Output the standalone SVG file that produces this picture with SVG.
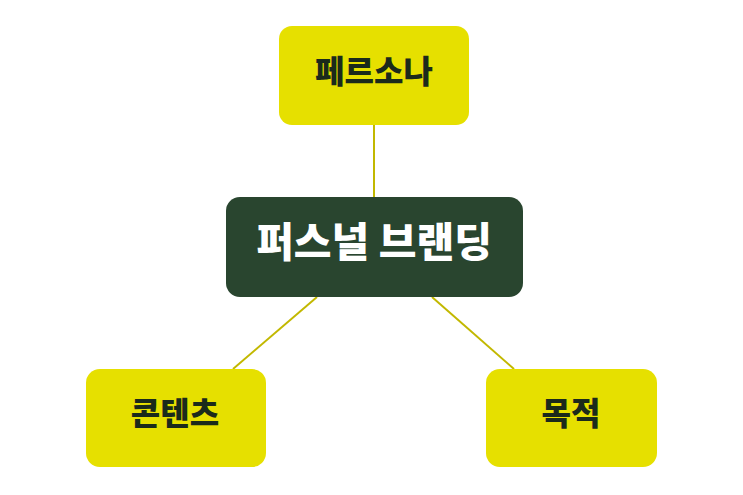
<svg xmlns="http://www.w3.org/2000/svg" width="743" height="495" viewBox="0 0 743 495">
<style>
.leaf{fill:#E6E000;}
.root{fill:#29452F;}
.lt{font-family:"Noto Sans CJK KR","Noto Sans",sans-serif;font-weight:900;font-size:32px;fill:#1B2A1B;text-anchor:middle;}
.rt{font-family:"Noto Sans CJK KR","Noto Sans",sans-serif;font-weight:900;font-size:41px;fill:#FFFFFF;text-anchor:middle;}
.conn{stroke:#C2B800;stroke-width:2;fill:none;}
</style>
<rect width="743" height="495" fill="#FFFFFF"/>
<g id="connectors">
<line class="conn" x1="374" y1="125" x2="374" y2="198"/>
<line class="conn" x1="317" y1="297" x2="233" y2="369"/>
<line class="conn" x1="432" y1="297" x2="514" y2="369"/>
</g>
<g id="node-persona">
<rect class="leaf" x="279" y="26" width="190" height="99" rx="13"/>
<text class="lt" x="374" y="83">페르소나</text>
</g>
<g id="node-root">
<rect class="root" x="226" y="197" width="297" height="100" rx="14"/>
<text class="rt" x="374" y="257">퍼스널 브랜딩</text>
</g>
<g id="node-content">
<rect class="leaf" x="86" y="369" width="180" height="98" rx="14"/>
<text class="lt" x="175" y="425">콘텐츠</text>
</g>
<g id="node-purpose">
<rect class="leaf" x="486" y="369" width="171" height="98" rx="14"/>
<text class="lt" x="571" y="425">목적</text>
</g>
</svg>
